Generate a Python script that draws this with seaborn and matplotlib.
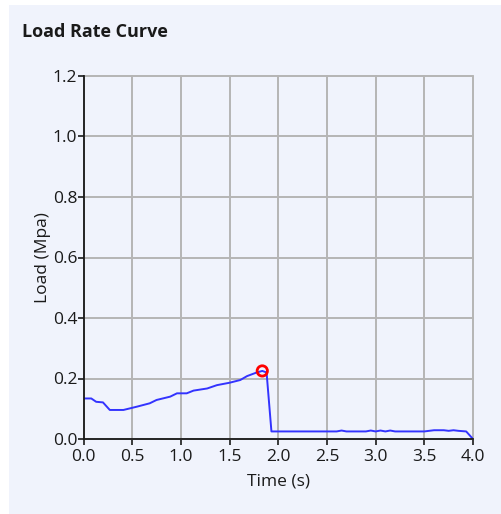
import matplotlib
matplotlib.use("Agg")
import matplotlib.pyplot as plt
import seaborn as sns
import pandas as pd
from matplotlib.patches import Rectangle

# Load-vs-time samples
time_s = [0.00, 0.08, 0.13, 0.20, 0.27, 0.41, 0.55, 0.68, 0.75, 0.89, 0.96, 1.06,
          1.13, 1.27, 1.37, 1.50, 1.61, 1.68, 1.78, 1.836, 1.88, 1.93, 2.10, 2.40,
          2.60, 2.65, 2.70, 2.90, 2.95, 3.00, 3.05, 3.10, 3.15, 3.20, 3.50, 3.60,
          3.70, 3.75, 3.80, 3.85, 3.93, 4.00]
load_mpa = [0.134, 0.134, 0.123, 0.121, 0.096, 0.096, 0.107, 0.118, 0.129, 0.140,
            0.151, 0.151, 0.160, 0.167, 0.178, 0.186, 0.195, 0.208, 0.220, 0.225,
            0.220, 0.025, 0.025, 0.025, 0.025, 0.028, 0.025, 0.025, 0.028, 0.025,
            0.028, 0.025, 0.028, 0.025, 0.025, 0.029, 0.029, 0.027, 0.029, 0.027,
            0.025, 0.000]

# Peak point
peak_time = [1.836]
peak_load = [0.225]

x_ticks = [0.0, 0.5, 1.0, 1.5, 2.0, 2.5, 3.0, 3.5, 4.0]
y_ticks = [0.0, 0.2, 0.4, 0.6, 0.8, 1.0, 1.2]

sns.set_style("white")
plt.rcParams["font.family"] = ["Open Sans", "DejaVu Sans"]

bg = "#f0f3fc"
fig = plt.figure(figsize=(5.01, 5.14), dpi=100, facecolor="white")
fig.patches.append(Rectangle((9 / 501, 0), 1 - 9 / 501, 1 - 5 / 514,
                             transform=fig.transFigure, facecolor=bg,
                             edgecolor="none", zorder=-10))

ax = fig.add_axes([83.5 / 501, 1 - 439 / 514, (473 - 83.5) / 501, (439 - 76) / 514])
ax.set_facecolor(bg)

curve = pd.DataFrame({"Time (s)": time_s, "Load (Mpa)": load_mpa})
peak = pd.DataFrame({"Time (s)": peak_time, "Load (Mpa)": peak_load})

sns.lineplot(data=curve, x="Time (s)", y="Load (Mpa)", ax=ax, color="#3333ff",
             linewidth=1.4, sort=False, zorder=3)
sns.scatterplot(data=peak, x="Time (s)", y="Load (Mpa)", ax=ax, s=55,
                facecolor="none", edgecolor="#ff0000", linewidth=2.0, zorder=4)

ax.set_xlim(0, 4)
ax.set_ylim(0, 1.2)
ax.set_xticks(x_ticks)
ax.set_yticks(y_ticks)
ax.set_xticklabels([f"{v:.1f}" for v in x_ticks])
ax.set_yticklabels([f"{v:.1f}" for v in y_ticks])

ax.grid(True, color="#b5b5b5", linewidth=1.4)
for gl in ax.get_xgridlines() + ax.get_ygridlines():
    gl.set_clip_on(False)
ax.set_axisbelow(True)

for side in ("top", "right"):
    ax.spines[side].set_visible(False)
for side in ("left", "bottom"):
    ax.spines[side].set_color("#1a1a1a")
    ax.spines[side].set_linewidth(1.3)
    ax.spines[side].set_zorder(5)

ax.tick_params(axis="both", which="major", direction="out", length=4, width=1.2,
               color="#1a1a1a", labelsize=12.5, labelcolor="#1a1a1a",
               bottom=True, left=True)
ax.tick_params(axis="x", pad=3.5)
ax.tick_params(axis="y", pad=0.5)

ax.set_xlabel("Time (s)", fontsize=12.5, color="#1a1a1a", labelpad=6)
ax.set_ylabel("Load (Mpa)", fontsize=12.5, color="#1a1a1a", labelpad=1)

fig.text(22 / 501, 1 - 32 / 514, "Load Rate Curve", fontsize=13, fontweight="bold",
         color="#1a1a1a", ha="left", va="center")

fig.savefig("out.png", dpi=100, facecolor="white")
